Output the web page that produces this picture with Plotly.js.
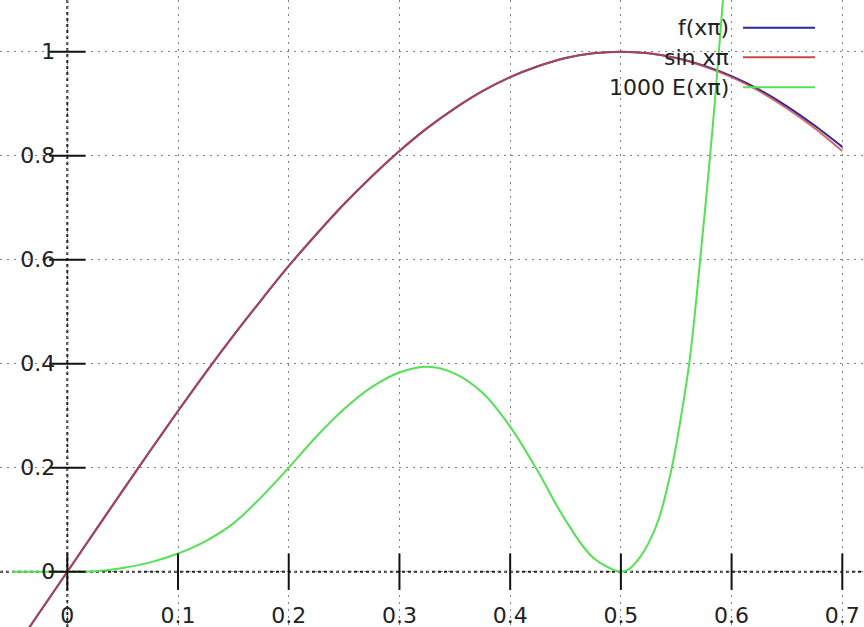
<!DOCTYPE html>
<html>
<head>
<meta charset="utf-8">
<script src="https://cdn.plot.ly/plotly-3.0.1.min.js"></script>
<style>html,body{margin:0;padding:0;background:#fff;}#chart{width:864px;height:627px;}</style>
</head>
<body>
<div id="chart"></div>
<script>
// ---- data ----
const xs = [-0.05,-0.025,0,0.025,0.05,0.075,0.1,0.125,0.15,0.175,0.2,0.225,0.25,0.275,0.3,0.325,0.35,0.375,0.4,0.425,0.45,0.475,0.5,0.525,0.55,0.575,0.6,0.625,0.65,0.675,0.7];
const sinVals = [-0.156,-0.078,0,0.078,0.156,0.233,0.309,0.383,0.454,0.522,0.588,0.649,0.707,0.760,0.809,0.853,0.891,0.924,0.951,0.972,0.988,0.997,1.000,0.997,0.988,0.972,0.951,0.924,0.891,0.853,0.809];
const fVals   = [-0.156,-0.078,0,0.078,0.156,0.233,0.309,0.383,0.454,0.522,0.588,0.649,0.707,0.760,0.809,0.853,0.891,0.924,0.951,0.972,0.988,0.997,1.000,0.997,0.988,0.973,0.953,0.927,0.895,0.858,0.817];
const errX = [-0.05,-0.025,0,0.025,0.05,0.075,0.1,0.125,0.15,0.175,0.2,0.225,0.25,0.275,0.3,0.325,0.35,0.375,0.4,0.425,0.45,0.475,0.5,0.508,0.517,0.525,0.534,0.546,0.5545,0.5617,0.567,0.5716,0.5762,0.5806,0.5847,0.5885,0.5922,0.5958];
const errVals = [0,0,0,0.001,0.007,0.018,0.035,0.059,0.093,0.143,0.2,0.26,0.313,0.355,0.383,0.394,0.381,0.344,0.279,0.193,0.099,0.027,0,0.006,0.027,0.055,0.1,0.2,0.3,0.4,0.5,0.6,0.7,0.8,0.9,1.0,1.1,1.2];
const seriesNames = ["f(xπ)", "sin xπ", "1000 E(xπ)"];
const seriesColors = ["#2828a0", "#c84848", "#55e055"];
const xTickVals = [0,0.1,0.2,0.3,0.4,0.5,0.6,0.7];
const xTickText = ["0","0.1","0.2","0.3","0.4","0.5","0.6","0.7"];
const yTickVals = [0,0.2,0.4,0.6,0.8,1];
const yTickText = ["0","0.2","0.4","0.6","0.8","1"];

const xRange = [-0.0608, 0.7196];
const yRange = [-0.1063, 1.0994];
const xZeroFrac = (0 - xRange[0]) / (xRange[1] - xRange[0]);
const yZeroFrac = (0 - yRange[0]) / (yRange[1] - yRange[0]);

const font = {family: "DejaVu Sans, sans-serif", size: 22, color: "#222"};

const traces = [
  {x: xs, y: fVals, mode: "lines", name: seriesNames[0], line: {color: seriesColors[0], width: 2, shape: "spline", smoothing: 0.8, simplify: false}, hoverinfo: "skip"},
  {x: xs, y: sinVals, mode: "lines", name: seriesNames[1], opacity: 0.8, line: {color: seriesColors[1], width: 2, shape: "spline", smoothing: 0.8, simplify: false}, hoverinfo: "skip"},
  {x: errX, y: errVals, mode: "lines", name: seriesNames[2], line: {color: seriesColors[2], width: 2, shape: "spline", smoothing: 1, simplify: false}, hoverinfo: "skip"},
  // crossing tick marks on the axes, placed at the tick values
  {x: xTickVals, y: xTickVals.map(() => 0), mode: "markers", showlegend: false, hoverinfo: "skip",
   marker: {symbol: "line-ns-open", size: 26, color: "#111", line: {color: "#111", width: 2}}},
  {x: yTickVals.map(() => 0), y: yTickVals, mode: "markers", showlegend: false, hoverinfo: "skip",
   marker: {symbol: "line-ew-open", size: 26, color: "#111", line: {color: "#111", width: 2}}}
];

const shapes = [
  // white box behind the key (hides the grid only)
  {type: "rect", layer: "between", xref: "paper", yref: "paper", x0: 600/864, x1: 826/864, y0: 1 - 100/627, y1: 1 - 13/627,
   fillcolor: "#ffffff", line: {width: 0}},
  // dotted zero axes
  {type: "line", layer: "between", xref: "x", yref: "paper", x0: 0, x1: 0, y0: 0, y1: 1, line: {color: "#222", width: 2, dash: "3px,3px"}},
  {type: "line", layer: "between", xref: "paper", yref: "y", x0: 0, x1: 1, y0: 0, y1: 0, line: {color: "#222", width: 2, dash: "3px,3px"}}
];
const annotations = [];
const keyRows = [27.7, 57.3, 87.3];
seriesNames.forEach((n, i) => {
  annotations.push({xref: "paper", yref: "paper", x: 731/864, y: 1 - keyRows[i]/627, xanchor: "right", yanchor: "middle",
    text: n, showarrow: false, font: font});
  shapes.push({type: "line", layer: "above", xref: "paper", yref: "paper", x0: 743/864, x1: 815/864,
    y0: 1 - keyRows[i]/627, y1: 1 - keyRows[i]/627, line: {color: seriesColors[i], width: 2}});
});

const layout = {
  width: 864, height: 627,
  margin: {l: 0, r: 0, t: 0, b: 0, pad: 0},
  paper_bgcolor: "#ffffff", plot_bgcolor: "#ffffff",
  showlegend: false,
  font: font,
  xaxis: {range: xRange, tickmode: "array", tickvals: xTickVals, ticktext: xTickText,
    anchor: "free", position: yZeroFrac, showline: false, zeroline: false, ticks: "",
    showgrid: true, gridcolor: "#808080", gridwidth: 1, griddash: "1.5px,5.5px",
    ticklabelstandoff: 28, tickfont: font, automargin: false, fixedrange: true},
  yaxis: {range: yRange, tickmode: "array", tickvals: yTickVals, ticktext: yTickText,
    anchor: "free", position: xZeroFrac, showline: false, zeroline: false, ticks: "",
    showgrid: true, gridcolor: "#808080", gridwidth: 1, griddash: "1.5px,5.5px",
    ticklabelstandoff: 12, tickfont: font, automargin: false, fixedrange: true},
  shapes: shapes,
  annotations: annotations
};

Plotly.newPlot("chart", traces, layout, {staticPlot: true, displayModeBar: false});
</script>
</body>
</html>
